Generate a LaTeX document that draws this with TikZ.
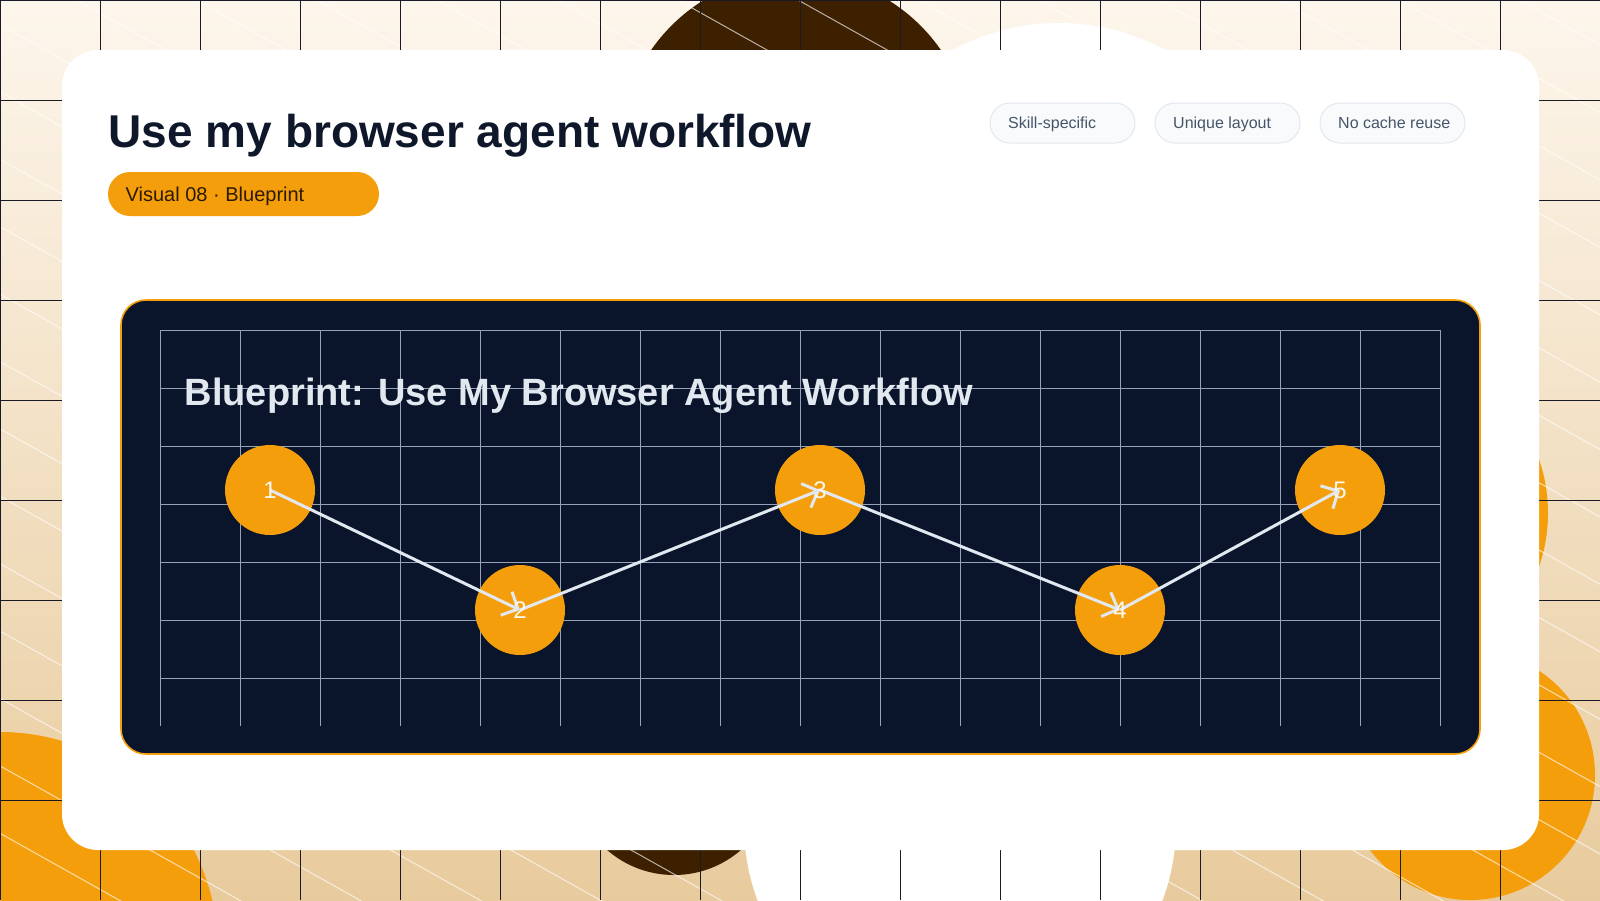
\documentclass[tikz,border=0pt]{standalone}
\usepackage{fontspec}
\setmainfont{Liberation Sans}
\usetikzlibrary{arrows.meta}
\definecolor{bgtop}{HTML}{FDF6EC}
\definecolor{bgbot}{HTML}{E8CB9D}
\definecolor{amber}{HTML}{F59E0B}
\definecolor{cocoa}{HTML}{3D2000}
\definecolor{navy}{HTML}{0A152B}
\definecolor{ink}{HTML}{0F172A}
\definecolor{gridln}{HTML}{94A3B8}
\definecolor{pale}{HTML}{E2E8F0}
\definecolor{tagfill}{HTML}{F8FAFC}
\definecolor{tagline}{HTML}{E2E8F0}
\definecolor{tagtext}{HTML}{475569}
\definecolor{bggrid}{HTML}{1A1A26}
\definecolor{badgetext}{HTML}{2B1A05}
\definecolor{numtext}{HTML}{FBF8F0}
\tikzset{
  bgline/.style={draw=bggrid, line width=1pt},
  stripe/.style={draw=white, opacity=0.65, line width=1pt},
  cardbox/.style={fill=white, rounded corners=36pt},
  panelbox/.style={fill=navy, draw=amber, line width=1.6pt, rounded corners=25pt},
  panelgrid/.style={draw=gridln, line width=0.9pt},
  badgebox/.style={fill=amber, rounded corners=22pt},
  tagbox/.style={fill=tagfill, draw=tagline, line width=1pt, rounded corners=20pt},
  tagtxt/.style={anchor=base west, inner sep=0pt, text=tagtext, font=\fontsize{16pt}{19pt}\selectfont},
  stepnode/.style={circle, fill=amber, minimum size=90pt, inner sep=0pt},
  numtxt/.style={inner sep=0pt, text=numtext, font=\fontsize{24pt}{28pt}\selectfont},
  flowarrow/.style={draw=pale, line width=3pt, -{Straight Barb[length=13pt, width=26pt]}},
}
\begin{document}
\begin{tikzpicture}[x=1pt,y=-1pt]
\useasboundingbox (0,0) rectangle (1600,900);
% ---------- background ----------
\begin{scope}
\clip (0,0) rectangle (1600,900);
\shade[top color=bgtop, bottom color=bgbot] (0,0) rectangle (1600,900);
\fill[cocoa] (796,150) circle[radius=176];
\fill[white] (1059,245) circle[radius=222];
\fill[cocoa] (674,773) circle[radius=102];
\fill[white] (960,825) circle[radius=216];
\fill[amber] (0,950) circle[radius=218];
\fill[amber] (1470,775) circle[radius=125];
\fill[amber] (1384,513) circle[radius=164];
\foreach \k in {-14,...,14}
  \draw[stripe] (0,{24.5+67.4*\k}) -- (1600,{24.5+67.4*\k+896.8});
\foreach \x in {0,100,...,1600}
  \draw[bgline] (\x,0) -- (\x,900);
\foreach \y in {0,100,...,800}
  \draw[bgline] (0,\y) -- (1600,\y);
\end{scope}
% ---------- card ----------
\fill[cardbox] (62,50) rectangle (1539,850);
\node[anchor=base west, inner sep=0pt, text=ink, font=\fontsize{46pt}{52pt}\selectfont\bfseries] (title) at (108.5,147) {Use my browser agent workflow};
\fill[badgebox] (108,172) rectangle (379,216);
\node[anchor=base west, inner sep=0pt, text=badgetext, font=\fontsize{20pt}{24pt}\selectfont] (badge) at (125.5,201) {Visual 08 · Blueprint};
\draw[tagbox] (990,103) rectangle (1135,143);
\draw[tagbox] (1155,103) rectangle (1300,143);
\draw[tagbox] (1320,103) rectangle (1465,143);
\node[tagtxt] (tag1) at (1008,128) {Skill-specific};
\node[tagtxt] (tag2) at (1173,128) {Unique layout};
\node[tagtxt] (tag3) at (1338,128) {No cache reuse};
% ---------- panel ----------
\draw[panelbox] (121,300) rectangle (1480,754);
\foreach \x in {160,240,...,1440}
  \draw[panelgrid] (\x,330) -- (\x,726);
\foreach \y in {330,388,...,680}
  \draw[panelgrid] (160,\y) -- (1441,\y);
\node[anchor=base west, inner sep=0pt, text=pale, font=\fontsize{38pt}{44pt}\selectfont\bfseries] (ptitle) at (184.5,405) {Blueprint: Use My Browser Agent Workflow};
% ---------- steps ----------
\node[stepnode] (n1) at (270,490) {};
\node[stepnode] (n2) at (520,610) {};
\node[stepnode] (n3) at (820,490) {};
\node[stepnode] (n4) at (1120,610) {};
\node[stepnode] (n5) at (1340,490) {};
\draw[flowarrow] (n1.center) -- (n2.center);
\draw[flowarrow] (n2.center) -- (n3.center);
\draw[flowarrow] (n3.center) -- (n4.center);
\draw[flowarrow] (n4.center) -- (n5.center);
\node[numtxt] (l1) at (n1.center) {1};
\node[numtxt] (l2) at (n2.center) {2};
\node[numtxt] (l3) at (n3.center) {3};
\node[numtxt] (l4) at (n4.center) {4};
\node[numtxt] (l5) at (n5.center) {5};
\end{tikzpicture}
\end{document}
